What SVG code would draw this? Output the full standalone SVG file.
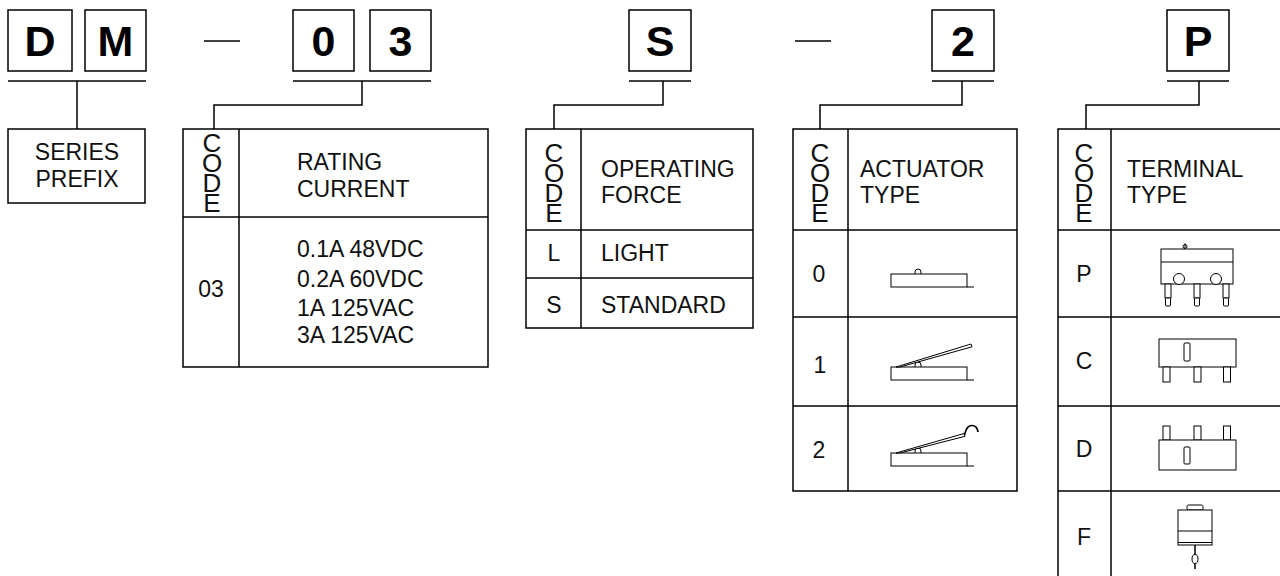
<svg xmlns="http://www.w3.org/2000/svg" width="1280" height="576" viewBox="0 0 1280 576">
<style>
.bx{fill:#fff;stroke:#000;stroke-width:1.5}
.ln{fill:none;stroke:#000;stroke-width:1.5}
.ic{fill:#fff;stroke:#000;stroke-width:1}
.icl{fill:none;stroke:#000;stroke-width:1}
.big{font-family:"Liberation Sans",Arial,sans-serif;font-weight:bold;font-size:43px;fill:#000;text-anchor:middle}
.t{font-family:"Liberation Sans",Arial,sans-serif;font-size:23px;fill:#111}
.c{text-anchor:middle}
.code{font-family:"Liberation Sans",Arial,sans-serif;font-size:26px;fill:#111;writing-mode:vertical-rl;text-orientation:upright;letter-spacing:-9.9px}
</style>
<rect width="1280" height="576" fill="#fff"/>

<g id="code-letters">
<rect class="bx" x="8" y="10" width="64" height="61"/><text class="big" x="40" y="56">D</text>
<rect class="bx" x="85" y="10" width="61" height="61"/><text class="big" x="115.5" y="56">M</text>
<rect class="bx" x="293" y="10" width="61" height="61"/><text class="big" x="323.5" y="56">0</text>
<rect class="bx" x="370" y="10" width="61" height="61"/><text class="big" x="400.5" y="56">3</text>
<rect class="bx" x="629" y="10" width="62" height="61"/><text class="big" x="660" y="56">S</text>
<rect class="bx" x="932" y="10" width="62" height="61"/><text class="big" x="963" y="56">2</text>
<rect class="bx" x="1167" y="10" width="62" height="61"/><text class="big" x="1198" y="56">P</text>
</g>

<g id="connectors">
<line class="ln" x1="204" y1="41" x2="240" y2="41"/>
<line class="ln" x1="795" y1="41" x2="831" y2="41"/>
<line class="ln" x1="8" y1="81" x2="146" y2="81"/>
<line class="ln" x1="77" y1="81" x2="77" y2="129"/>
<line class="ln" x1="293" y1="81" x2="431" y2="81"/>
<path class="ln" d="M362,81 V105 H214 V129"/>
<line class="ln" x1="629" y1="81" x2="691" y2="81"/>
<path class="ln" d="M663,81 V105 H554 V129"/>
<line class="ln" x1="932" y1="81" x2="994" y2="81"/>
<path class="ln" d="M962,81 V105 H820 V129"/>
<line class="ln" x1="1167" y1="81" x2="1229" y2="81"/>
<path class="ln" d="M1199,81 V105 H1086 V129"/>
</g>

<g id="series-prefix">
<rect class="bx" x="8" y="129" width="137" height="74"/>
<text class="t c" x="77" y="160">SERIES</text>
<text class="t c" x="77" y="187">PREFIX</text>
</g>

<g id="rating-current">
<rect class="bx" x="183" y="129" width="305" height="238"/>
<line class="ln" x1="239" y1="129" x2="239" y2="367"/>
<line class="ln" x1="183" y1="217" x2="488" y2="217"/>
<text class="code" x="212" y="128">CODE</text>
<text class="t" x="297" y="170">RATING</text>
<text class="t" x="297" y="197">CURRENT</text>
<text class="t c" x="211" y="297">03</text>
<text class="t" x="297" y="257">0.1A 48VDC</text>
<text class="t" x="297" y="287">0.2A 60VDC</text>
<text class="t" x="297" y="316">1A 125VAC</text>
<text class="t" x="297" y="343">3A 125VAC</text>
</g>

<g id="operating-force">
<rect class="bx" x="526" y="129" width="227" height="199"/>
<line class="ln" x1="581" y1="129" x2="581" y2="328"/>
<line class="ln" x1="526" y1="230" x2="753" y2="230"/>
<line class="ln" x1="526" y1="278" x2="753" y2="278"/>
<text class="code" x="554" y="138">CODE</text>
<text class="t" x="601" y="177">OPERATING</text>
<text class="t" x="601" y="203">FORCE</text>
<text class="t c" x="554" y="261">L</text>
<text class="t" x="601" y="261">LIGHT</text>
<text class="t c" x="554" y="313">S</text>
<text class="t" x="601" y="313">STANDARD</text>
</g>

<g id="actuator-type">
<rect class="bx" x="793" y="129" width="224" height="362"/>
<line class="ln" x1="848" y1="129" x2="848" y2="491"/>
<line class="ln" x1="793" y1="230" x2="1017" y2="230"/>
<line class="ln" x1="793" y1="317" x2="1017" y2="317"/>
<line class="ln" x1="793" y1="406" x2="1017" y2="406"/>
<text class="code" x="820" y="138">CODE</text>
<text class="t" x="860" y="177">ACTUATOR</text>
<text class="t" x="860" y="203">TYPE</text>
<text class="t c" x="819" y="282">0</text>
<text class="t c" x="820" y="373">1</text>
<text class="t c" x="819" y="458">2</text>
<!-- icon 0 -->
<path class="ic" d="M915,274 V272 A3,3 0 0 1 921,272 V274"/>
<rect class="ic" x="891" y="274" width="76" height="13"/>
<line class="icl" x1="967" y1="287" x2="974" y2="287"/>
<!-- icon 1 -->
<path class="ic" d="M915,367 V365 A3,3 0 0 1 921,365 V367"/>
<rect class="ic" x="891" y="367" width="76" height="13"/>
<line class="icl" x1="967" y1="380" x2="974" y2="380"/>
<path class="ic" d="M896,367 L971,344 L972,346.8 L900,367 Z"/>
<!-- icon 2 -->
<path class="ic" d="M915,453 V451 A3,3 0 0 1 921,451 V453"/>
<rect class="ic" x="891" y="453" width="76" height="13"/>
<line class="icl" x1="967" y1="466" x2="974" y2="466"/>
<path class="ic" d="M896,453 L964,433.5 L965,436.3 L900,453 Z"/>
<path class="icl" style="stroke-width:1.7" d="M964.5,435 C966,430 967,425.5 972,425.5 C975.5,425.5 977.5,428.5 978,432"/>
</g>

<g id="terminal-type">
<path class="ln" d="M1280,129 H1058 V576"/>
<line class="ln" x1="1111" y1="129" x2="1111" y2="576"/>
<line class="ln" x1="1058" y1="230" x2="1280" y2="230"/>
<line class="ln" x1="1058" y1="317" x2="1280" y2="317"/>
<line class="ln" x1="1058" y1="406" x2="1280" y2="406"/>
<line class="ln" x1="1058" y1="491" x2="1280" y2="491"/>
<text class="code" x="1084" y="138">CODE</text>
<text class="t" x="1127" y="177">TERMINAL</text>
<text class="t" x="1127" y="203">TYPE</text>
<text class="t c" x="1084" y="282">P</text>
<text class="t c" x="1084" y="369">C</text>
<text class="t c" x="1084" y="457">D</text>
<text class="t c" x="1084" y="545">F</text>
<!-- P icon -->
<rect class="ic" x="1161" y="249" width="72" height="35"/>
<line class="icl" x1="1161" y1="262" x2="1233" y2="262"/>
<circle class="ic" cx="1179" cy="279" r="5.5"/>
<circle class="ic" cx="1216" cy="279" r="5.5"/>
<circle class="ic" cx="1185" cy="246.5" r="2"/>
<line class="icl" x1="1185" y1="243.5" x2="1185" y2="249"/>
<rect class="ic" x="1165" y="284" width="6" height="14"/>
<rect class="ic" x="1194" y="284" width="6" height="14"/>
<rect class="ic" x="1223" y="284" width="6" height="14"/>
<rect class="ic" x="1165.5" y="298" width="5" height="8" rx="1"/>
<rect class="ic" x="1194.5" y="298" width="5" height="8" rx="1"/>
<rect class="ic" x="1223.5" y="298" width="5" height="8" rx="1"/>
<!-- C icon -->
<rect class="ic" x="1159" y="339" width="77" height="28"/>
<rect class="ic" x="1184" y="343" width="6" height="18" rx="1"/>
<rect class="ic" x="1163" y="367" width="7" height="15"/>
<rect class="ic" x="1194" y="367" width="7" height="15"/>
<rect class="ic" x="1223.5" y="367" width="7" height="15"/>
<!-- D icon -->
<rect class="ic" x="1163" y="426" width="7" height="14"/>
<rect class="ic" x="1194" y="426" width="7" height="14"/>
<rect class="ic" x="1223.5" y="426" width="7" height="14"/>
<rect class="ic" x="1159" y="440" width="77" height="30"/>
<rect class="ic" x="1184" y="447" width="6" height="17" rx="1"/>
<!-- F icon -->
<rect class="ic" x="1187" y="505" width="16" height="5" rx="1.5"/>
<rect class="ic" x="1178" y="510" width="34" height="35"/>
<line class="icl" x1="1178" y1="531" x2="1212" y2="531"/>
<line class="icl" x1="1178" y1="542.5" x2="1212" y2="542.5"/>
<line class="icl" style="stroke-width:1.5" x1="1195" y1="545" x2="1195" y2="569"/>
<ellipse class="ic" cx="1195" cy="559" rx="3" ry="4.5"/>
</g>
</svg>
